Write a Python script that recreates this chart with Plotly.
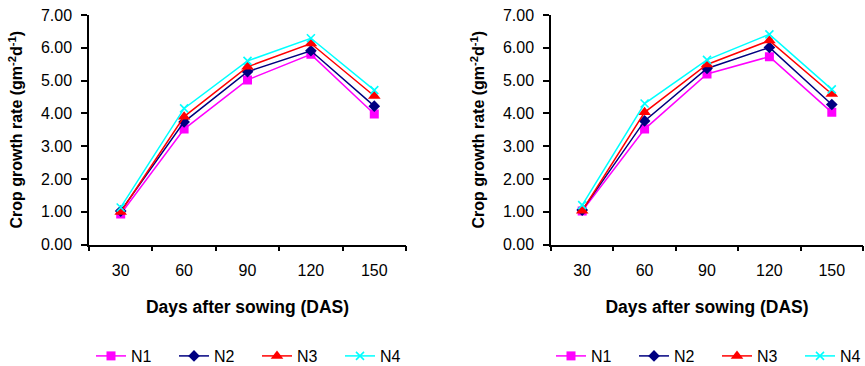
import plotly.graph_objects as go

das = ["30", "60", "90", "120", "150"]

# Left panel
left_N1 = [0.93, 3.52, 5.02, 5.80, 3.98]
left_N2 = [1.02, 3.74, 5.27, 5.91, 4.22]
left_N3 = [0.99, 3.90, 5.42, 6.13, 4.53]
left_N4 = [1.13, 4.15, 5.60, 6.29, 4.71]

# Right panel
right_N1 = [1.02, 3.52, 5.20, 5.73, 4.03]
right_N2 = [1.05, 3.77, 5.37, 6.01, 4.27]
right_N3 = [1.03, 4.03, 5.49, 6.22, 4.59]
right_N4 = [1.20, 4.30, 5.63, 6.41, 4.73]

names = ["N1", "N2", "N3", "N4"]
colors = ["#FF00FF", "#000080", "#FF0000", "#00FFFF"]
symbols = ["square", "diamond", "triangle-up", "x-thin"]
sizes = [9, 9, 11, 8]

W, H = 865, 366
FONT = "Liberation Sans, Arial, sans-serif"

fig = go.Figure()

def add_panel(series, xa, ya, legend):
    for name, vals, c, s, sz in zip(names, series, colors, symbols, sizes):
        marker = dict(color=c, symbol=s, size=sz)
        if s == "x-thin":
            marker["line"] = dict(color=c, width=1.6)
        fig.add_trace(go.Scatter(
            x=das, y=vals, name=name, mode="lines+markers",
            line=dict(color=c, width=1.5), marker=marker,
            xaxis=xa, yaxis=ya, legend=legend,
        ))

add_panel([left_N1, left_N2, left_N3, left_N4], "x", "y", "legend")
add_panel([right_N1, right_N2, right_N3, right_N4], "x2", "y2", "legend2")

xd1 = [89 / W, 406 / W]
xd2 = [551 / W, 863 / W]
yd = [1 - 244.5 / H, 1 - 15 / H]

ytitle = "Crop growth rate (gm<sup>-2</sup>d<sup>-1</sup>)"
xtitle = "Days after sowing (DAS)"

common_x = dict(
    type="category", tickson="boundaries", range=[-0.5, 4.5],
    showline=True, linecolor="black", linewidth=1.5,
    ticks="outside", ticklen=5, tickwidth=1.5, tickcolor="black",
    ticklabelstandoff=11,
    showgrid=False, zeroline=False, automargin=False,
    tickfont=dict(family=FONT, size=16, color="black"),
    title=dict(text=xtitle, font=dict(family=FONT, size=17.5, color="black", weight="bold"), standoff=22),
)
common_y = dict(
    range=[0, 7], dtick=1, tickformat=".2f",
    showline=True, linecolor="black", linewidth=1.5,
    ticks="outside", ticklen=6, tickwidth=1.5, tickcolor="black",
    ticklabelstandoff=6,
    showgrid=False, zeroline=False, automargin=False,
    tickfont=dict(family=FONT, size=16, color="black"),
    title=dict(text=ytitle, font=dict(family=FONT, size=16, color="black", weight="bold"), standoff=14),
)

def overlay_x(over, anchor):
    return dict(overlaying=over, anchor=anchor, range=[-0.5, 4.5],
                tickvals=[-0.5, 0.5, 1.5, 2.5, 3.5, 4.5],
                ticks="inside", ticklen=5, tickwidth=1.5, tickcolor="black", showticklabels=False,
                showline=False, showgrid=False, zeroline=False)

def overlay_y(over, anchor):
    return dict(overlaying=over, anchor=anchor, range=[0, 7], dtick=1,
                ticks="inside", ticklen=6, tickwidth=1.5, tickcolor="black", showticklabels=False,
                showline=False, showgrid=False, zeroline=False)

legend_common = dict(orientation="h", xanchor="center", y=1 - 356 / H, yanchor="middle",
                     font=dict(family=FONT, size=16, color="black"), bgcolor="rgba(0,0,0,0)",
                     entrywidth=38, entrywidthmode="pixels", tracegroupgap=0,
                     itemclick=False, itemdoubleclick=False)

fig.update_layout(
    width=W, height=H,
    margin=dict(l=0, r=0, t=0, b=0, autoexpand=False),
    paper_bgcolor="white", plot_bgcolor="white",
    font=dict(family=FONT, color="black"),
    xaxis=dict(domain=xd1, anchor="y", **common_x),
    yaxis=dict(domain=yd, anchor="x", **common_y),
    xaxis2=dict(domain=xd2, anchor="y2", **common_x),
    yaxis2=dict(domain=yd, anchor="x2", **common_y),
    xaxis3=overlay_x("x", "y"),
    yaxis3=overlay_y("y", "x"),
    xaxis4=overlay_x("x2", "y2"),
    yaxis4=overlay_y("y2", "x2"),
    legend=dict(x=257 / W, **legend_common),
    legend2=dict(x=717 / W, **legend_common),
)

fig.write_html("out.html", config={"displayModeBar": False},
               post_script="document.body.style.margin='0';document.body.style.overflow='hidden';")
